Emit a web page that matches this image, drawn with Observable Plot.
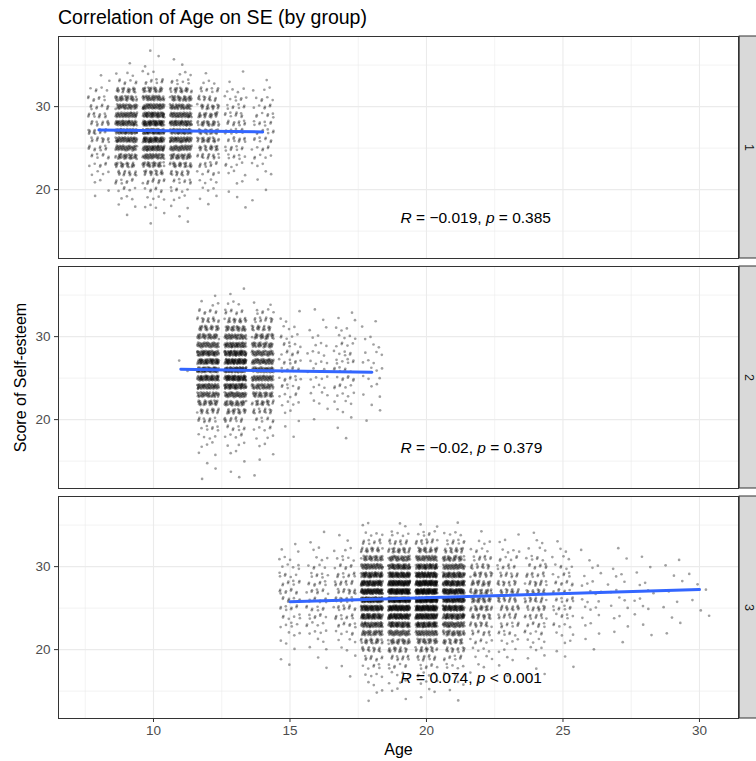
<!DOCTYPE html>
<html><head><meta charset="utf-8">
<script src="https://cdn.jsdelivr.net/npm/d3@7"></script>
<script src="https://cdn.jsdelivr.net/npm/@observablehq/plot@0.6"></script>
<style>
body{margin:0;background:#fff;font-family:"Liberation Sans",Arial,sans-serif;}
#wrap{width:756px;height:761px;overflow:hidden;}
#title{height:34px;box-sizing:border-box;padding-top:6px;padding-left:58px;line-height:22px;font-size:19.5px;color:#000;white-space:nowrap;}
</style></head>
<body><div id="wrap"><div id="title">Correlation of Age on SE (by group)</div><div id="chart"></div></div>
<script>
// ---------- data ----------
const groups = ["1", "2", "3"];
// self-esteem score levels (integers) and relative frequency of each level per group
const scoreVals = [13,14,15,16,17,18,19,20,21,22,23,24,25,26,27,28,29,30,31,32,33,34,35,36,37];
const weights1  = [0,0,0,1,2,5,7,12,20,35,55,80,105,125,135,130,115,95,75,50,15,6,2,1,1];
const weights2  = [1,1,2,3,5,8,12,20,35,55,80,105,125,135,130,115,90,70,50,30,14,5,1,1,0];
const weights3  = [0,1,2,3,5,8,14,22,35,55,80,105,125,140,140,125,100,75,50,28,14,6,2,0,0];
// ages (integer years) and number of respondents at each age
const ages1   = [8,9,10,11,12,13,14];
const counts1 = [110,480,620,500,220,95,65];
const ages2   = [11,12,13,14,15,16,17,18];
const counts2 = [2,600,720,460,70,35,60,25];
const ages3   = [15,16,17,18,19,20,21,22,23,24,25,26,27,28,29,30];
const counts3 = [70,75,110,820,1000,1050,760,220,140,130,70,25,18,14,10,6];
// fitted linear trend (lm) end points per group
const fitAges1 = [8, 14],  fitScores1 = [27.19, 26.95];
const fitAges2 = [11, 18], fitScores2 = [26.06, 25.72];
const fitAges3 = [15, 30], fitScores3 = [25.78, 27.23];
// correlation results
const rValues = ["\u22120.019", "\u22120.02", "0.074"];
const pOps    = ["=", "=", "<"];
const pValues = ["0.385", "0.379", "0.001"];
// axis ticks
const xTicks = [10, 15, 20, 25, 30];
const xMinor = [7.5, 12.5, 17.5, 22.5, 27.5];
const yTicks = [20, 30];
const yMinor = [15, 25, 35];

// ---------- build tables ----------
// For every age the respondents are split over the score levels in proportion to the
// group's distribution (largest remainder). Inside each age x score cell the display
// offsets (jitter width .4, height .3) follow a deterministic low-discrepancy pattern.
const points = [];
let cellNo = 0;
function expand(g, ages, counts, weights) {
  const total = d3.sum(weights);
  ages.forEach((a, k) => {
    const n = counts[k];
    const exact = weights.map(w => w / total * n);
    const m = exact.map(Math.floor);
    let rest = n - d3.sum(m);
    d3.range(weights.length).sort((i, j) => (exact[j] - m[j]) - (exact[i] - m[i]))
      .slice(0, rest).forEach(i => m[i]++);
    m.forEach((cnt, j) => {
      cellNo++;
      const s1 = (cellNo * 0.6180339887) % 1, s2 = (cellNo * 0.4142135624) % 1;
      for (let t = 0; t < cnt; t++) {
        const u = (s1 + t * 0.7548776662) % 1;
        const v = (s2 + t * 0.5698402910) % 1;
        points.push({g, age: a, score: scoreVals[j], jx: (u - 0.5) * 0.8, jy: (v - 0.5) * 0.6});
      }
    });
  });
}
expand("1", ages1, counts1, weights1);
expand("2", ages2, counts2, weights2);
expand("3", ages3, counts3, weights3);

const fits = [];
[[fitAges1, fitScores1], [fitAges2, fitScores2], [fitAges3, fitScores3]].forEach(([a, s], k) =>
  a.forEach((x, i) => fits.push({g: groups[k], age: x, fit: s[i]})));

const cors = groups.map((g, k) => ({g, label: `R = ${rValues[k]}, p ${pOps[k]} ${pValues[k]}`, r: rValues[k], op: pOps[k], p: pValues[k]}));
const strips = groups.map(g => ({g}));

// ---------- plot ----------
const xDomain = [6.52, 31.43];
const yDomain = [11.7, 38.45];
const pxPerX = (738 - 58) / (xDomain[1] - xDomain[0]);
const grid = "#EBEBEB";

const plot = Plot.plot({
  width: 756, height: 727,
  marginLeft: 58, marginRight: 18, marginTop: 1, marginBottom: 43,
  style: {fontFamily: "'Liberation Sans', Arial, sans-serif", fontSize: "13.5px", background: "#fff"},
  x: {domain: xDomain, label: null},
  y: {domain: yDomain, label: null},
  fy: {domain: groups, axis: null, paddingInner: 0.0348, paddingOuter: 0, label: null},
  marks: [
    Plot.ruleX(xMinor, {stroke: grid, strokeWidth: 0.6}),
    Plot.ruleY(yMinor, {stroke: grid, strokeWidth: 0.6}),
    Plot.ruleX(xTicks, {stroke: grid, strokeWidth: 1.1}),
    Plot.ruleY(yTicks, {stroke: grid, strokeWidth: 1.1}),
    Plot.dot(points, {x: d => d.age + d.jx, y: d => d.score + d.jy, fy: "g", r: 1.35, fill: "#000", fillOpacity: 0.37, stroke: null}),
    Plot.line(fits, {x: "age", y: "fit", fy: "g", z: "g", stroke: "#3366FF", strokeWidth: 3}),
    Plot.text(cors, {fy: "g", x: 19.05, y: 16.6, text: "label", textAnchor: "start", fontSize: 15.5, fill: "#000"}),
    Plot.frame({stroke: "#333333", strokeWidth: 1}),
    Plot.rect(strips, {fy: "g", x1: xDomain[1] + 1.2 / pxPerX, x2: xDomain[1] + 30 / pxPerX, y1: yDomain[0], y2: yDomain[1], fill: "#D9D9D9", stroke: "#333333", strokeWidth: 1, clip: false}),
    Plot.text(strips, {fy: "g", x: xDomain[1] + 10.5 / pxPerX, frameAnchor: "middle", text: "g", rotate: 90, fontSize: 12.5, fill: "#1A1A1A"}),
    Plot.axisY({ticks: yTicks, tickSize: 4, tickPadding: 4, fontSize: 13.5, stroke: "#333333", fill: "#4D4D4D", label: null}),
    Plot.axisX({ticks: xTicks, tickSize: 4, tickPadding: 3, fontSize: 13.5, stroke: "#333333", fill: "#4D4D4D", label: null}),
    Plot.text([{g: "3"}], {fy: "g", frameAnchor: "bottom", dy: 31, lineAnchor: "middle", text: () => "Age", fontSize: 16, fill: "#000"}),
    Plot.text([{g: "2"}], {fy: "g", frameAnchor: "left", dx: -38, rotate: -90, lineAnchor: "middle", textAnchor: "middle", text: () => "Score of Self-esteem", fontSize: 16, fill: "#000"})
  ]
});

// italic R and p in the correlation labels
d3.select(plot).selectAll("text").each(function() {
  const t = this.textContent;
  const c = cors.find(d => d.label === t);
  if (!c) return;
  const el = d3.select(this);
  el.text(null);
  el.append("tspan").attr("font-style", "italic").text("R");
  el.append("tspan").text(` = ${c.r}, `);
  el.append("tspan").attr("font-style", "italic").text("p");
  el.append("tspan").text(` ${c.op} ${c.p}`);
});

document.getElementById("chart").appendChild(plot);
</script>
</body></html>
